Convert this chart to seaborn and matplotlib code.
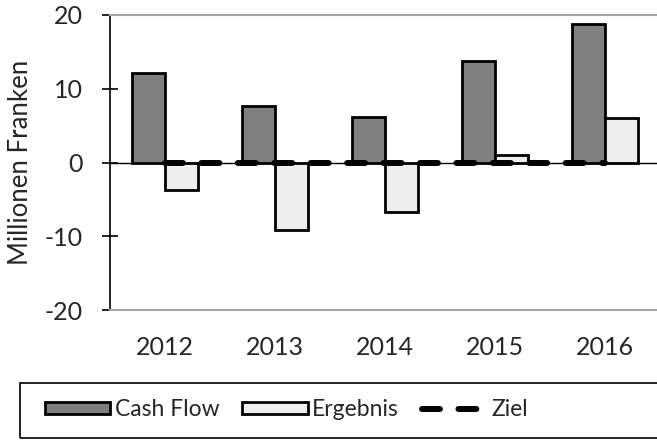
import pandas as pd
import matplotlib.pyplot as plt
import seaborn as sns
from matplotlib.patches import Patch, Rectangle
from matplotlib.lines import Line2D

# Daten
jahre = ['2012', '2013', '2014', '2015', '2016']
cash_flow = [12.1, 7.7, 6.2, 13.8, 18.8]
ergebnis = [-3.7, -9.2, -6.7, 1.0, 6.1]
ziel = [0, 0, 0, 0, 0]

sns.set_style('white')
plt.rcParams['font.family'] = ['Lato', 'DejaVu Sans']
plt.rcParams['axes.unicode_minus'] = False

df = pd.DataFrame({
    'Jahr': jahre * 2,
    'Serie': ['Cash Flow'] * len(jahre) + ['Ergebnis'] * len(jahre),
    'Wert': cash_flow + ergebnis,
})
farben = {'Cash Flow': '#808080', 'Ergebnis': '#eeeeee'}

fig = plt.figure(figsize=(6.57, 4.41), dpi=100)
ax = fig.add_axes([110 / 657, 1 - 310 / 441, 550 / 657, 295 / 441])

# Null-Linie
ax.axhline(0, color='black', lw=1, zorder=1)

sns.barplot(data=df, x='Jahr', y='Wert', hue='Serie', order=jahre,
            palette=farben, edgecolor='black', linewidth=2, width=0.6,
            legend=False, ax=ax, zorder=2)

# Ziel-Linie
ziel_stil = dict(color='black', lw=4.3, linestyle=(0, (3, 3.1)),
                 dash_capstyle='round')
ax.plot(range(len(jahre)), ziel, zorder=3, **ziel_stil)

ax.set_xlim(-0.5, len(jahre) - 0.5)
ax.set_ylim(-20, 20)
ax.set_yticks([-20, -10, 0, 10, 20])
ax.set_xlabel('')
ax.set_ylabel('Millionen Franken', fontsize=18.5)
ax.yaxis.set_label_coords(-0.14, 0.5)

for s in ['top', 'bottom']:
    ax.spines[s].set_color('#a6a6a6')
    ax.spines[s].set_linewidth(1.5)
ax.spines['right'].set_visible(False)
ax.spines['left'].set_color('black')
ax.spines['left'].set_linewidth(1.2)

ax.tick_params(axis='y', direction='inout', length=11, width=1.2,
               color='black', labelsize=18, pad=14, left=True)
ax.tick_params(axis='x', length=0, labelsize=18, pad=19)

# Legende mit Rahmen
fig.patches.append(Rectangle((20 / 657, 3 / 441), 700 / 657, 55 / 441,
                             transform=fig.transFigure, fill=False,
                             edgecolor='black', lw=1.2))
handles = [
    Patch(facecolor=farben['Cash Flow'], edgecolor='black', lw=2, label='Cash Flow'),
    Patch(facecolor=farben['Ergebnis'], edgecolor='black', lw=2, label='Ergebnis'),
    Line2D([0], [0], label='Ziel', **ziel_stil),
]
fig.legend(handles=handles, loc='center left', bbox_to_anchor=(45 / 657, 31 / 441),
           ncol=3, frameon=False, fontsize=16.5, borderpad=0, borderaxespad=0,
           handlelength=2.85, handleheight=0.45, handletextpad=0.2,
           columnspacing=1.0)

fig.savefig('out.png', dpi=100)
